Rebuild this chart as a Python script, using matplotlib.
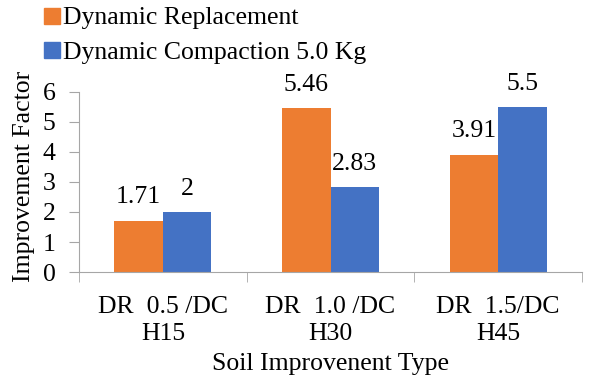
import numpy as np
import matplotlib
matplotlib.use("Agg")
import matplotlib.pyplot as plt
from matplotlib.lines import Line2D

categories = ["DR  0.5 /DC\nH15", "DR  1.0 /DC\nH30", "DR  1.5/DC\nH45"]
dynamic_replacement = [1.71, 5.46, 3.91]
dynamic_compaction = [2, 2.83, 5.5]
dr_labels = ["1.71", "5.46", "3.91"]
dc_labels = ["2", "2.83", "5.5"]
series_names = ["Dynamic Replacement", "Dynamic Compaction 5.0 Kg"]

plt.rcParams['font.family'] = ['Liberation Serif', 'DejaVu Serif']
orange = "#ED7D31"
blue = "#4472C4"
axis_gray = "#A6A6A6"
fs = 18.5

fig = plt.figure(figsize=(5.96, 3.77), dpi=100)
ax = fig.add_axes([0.1326, 0.2785, 0.844, 0.4775])

x = np.arange(len(categories))
w = 0.29
ax.bar(x - w / 2, dynamic_replacement, w, color=orange)
ax.bar(x + w / 2, dynamic_compaction, w, color=blue)

# value labels sit ~17 px above the bar tops
for xi, v, s in zip(x, dynamic_replacement, dr_labels):
    ax.annotate(s, (xi - w / 2, v), xytext=(0, 12.5), textcoords='offset points',
                ha='center', va='baseline', fontsize=fs)
for xi, v, s in zip(x, dynamic_compaction, dc_labels):
    ax.annotate(s, (xi + w / 2, v), xytext=(0, 12.5), textcoords='offset points',
                ha='center', va='baseline', fontsize=fs)

ax.set_xlim(-0.5, len(categories) - 0.5)
ax.set_ylim(0, 6)
ax.set_yticks(range(0, 7))
ax.set_xticks(x)
ax.set_xticklabels(categories, fontsize=fs, linespacing=1.3)
ax.set_xticks(np.arange(-0.5, len(categories)), minor=True)
ax.tick_params(axis='x', which='major', length=0, pad=17)
ax.tick_params(axis='x', which='minor', length=7, color=axis_gray)
ax.tick_params(axis='y', length=7, color=axis_gray, labelsize=fs, pad=10)

for side in ['top', 'right']:
    ax.spines[side].set_visible(False)
for side in ['left', 'bottom']:
    ax.spines[side].set_color(axis_gray)

ax.set_ylabel("Improvement Factor", fontsize=fs)
ax.yaxis.set_label_coords(-0.088, 0.53)
ax.set_xlabel("Soil Improvenent Type", fontsize=fs, labelpad=6)

handles = [Line2D([], [], marker='s', linestyle='none', markersize=11, color=c)
           for c in [orange, blue]]
fig.legend(handles, series_names, loc='upper left', bbox_to_anchor=(0.05, 1.01),
           frameon=False, fontsize=fs, handletextpad=0.0, labelspacing=0.45,
           borderaxespad=0, handlelength=0.9)

fig.savefig("out.png", dpi=100)
